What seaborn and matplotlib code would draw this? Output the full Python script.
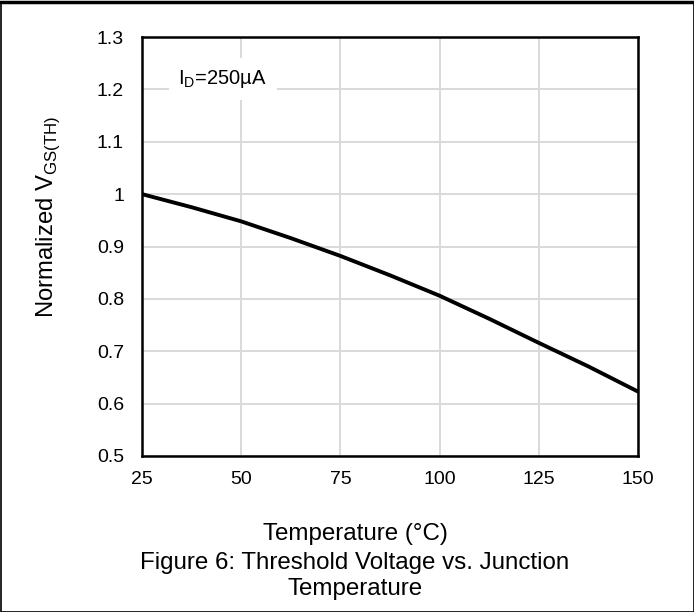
import matplotlib
matplotlib.use("Agg")
import matplotlib.pyplot as plt
import seaborn as sns
import pandas as pd
from matplotlib.patches import Rectangle
from matplotlib.lines import Line2D

# Normalized threshold voltage vs. junction temperature
temperature_c = [25, 37.5, 50, 62.5, 75, 87.5, 100, 112.5, 125, 137.5, 150]
vgs_th_norm = [1.000, 0.975, 0.948, 0.916, 0.882, 0.845, 0.806, 0.762, 0.716, 0.671, 0.623]

x_ticks = [25, 50, 75, 100, 125, 150]
y_ticks = [0.5, 0.6, 0.7, 0.8, 0.9, 1.0, 1.1, 1.2, 1.3]
y_tick_labels = ["0.5", "0.6", "0.7", "0.8", "0.9", "1", "1.1", "1.2", "1.3"]

df = pd.DataFrame({"Temperature": temperature_c, "VGS": vgs_th_norm})

sns.set_theme(style="white")
plt.rcParams["font.family"] = ["Liberation Sans", "DejaVu Sans"]
plt.rcParams["mathtext.fontset"] = "custom"
plt.rcParams["mathtext.rm"] = "Liberation Sans"

W, H = 694, 612
fig = plt.figure(figsize=(W / 100, H / 100), dpi=100)
ax = fig.add_axes([142 / W, 1 - 456 / H, 496 / W, 419 / H])

sns.lineplot(data=df, x="Temperature", y="VGS", ax=ax, color="black",
             linewidth=2.8, zorder=3)

ax.set_xlim(25, 150)
ax.set_ylim(0.5, 1.3)
ax.set_xticks(x_ticks)
ax.set_xticklabels([str(t) for t in x_ticks])
ax.set_yticks(y_ticks)
ax.set_yticklabels(y_tick_labels)
ax.grid(True, color="#d9d9d9", linewidth=1.4)
ax.set_axisbelow(True)
for s in ax.spines.values():
    s.set_color("black")
    s.set_linewidth(1.8)
ax.tick_params(axis="both", length=0, labelsize=14, colors="black")
ax.tick_params(axis="x", pad=11)
ax.tick_params(axis="y", pad=13)
ax.set_xlabel("")
ax.set_ylabel("")

# Test-condition label on a white box that hides the grid behind it
ax.text(0.163, (456 - 84) / 419, r"I$_\mathregular{D}$=250µA",
        transform=ax.transAxes, ha="center", va="baseline", fontsize=14.5,
        color="black", zorder=4,
        bbox=dict(facecolor="white", edgecolor="none", pad=7))

fig.text(48 / W, 1 - 217 / H, r"Normalized V$_\mathregular{GS(TH)}$",
         rotation=90, ha="center", va="center", fontsize=17.2, color="black")
fig.text(355 / W, 1 - 540 / H, "Temperature (°C)", ha="center",
         va="baseline", fontsize=17.4, color="black")
fig.text(355 / W, 1 - 569 / H, "Figure 6: Threshold Voltage vs. Junction",
         ha="center", va="baseline", fontsize=17.4, color="black")
fig.text(355 / W, 1 - 595 / H, "Temperature", ha="center", va="baseline",
         fontsize=17.4, color="black")

# Outer frame
fig.patches.append(Rectangle((0.5 / W, 0.5 / H), 693 / W, 610 / H,
                             transform=fig.transFigure, fill=False,
                             edgecolor="black", linewidth=1.2))
fig.lines.append(Line2D([0, 1], [1 - 1.5 / H, 1 - 1.5 / H],
                        transform=fig.transFigure, color="black", linewidth=2.5))

fig.savefig("out.png", dpi=100)
